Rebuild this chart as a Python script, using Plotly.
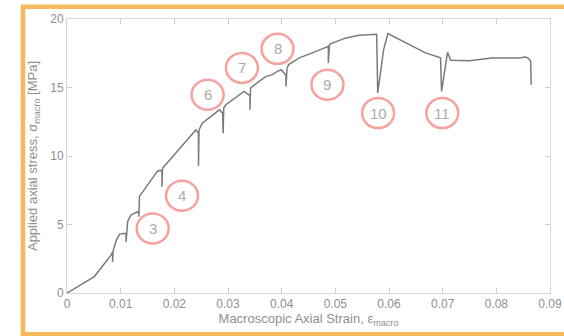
import plotly.graph_objects as go

# Macroscopic stress-strain response with stress drops
strain = [0, 0.0051, 0.0082, 0.0085, 0.0085, 0.0086, 0.0092, 0.0098, 0.0107, 0.0110, 0.0110,
          0.0112, 0.0113, 0.0119, 0.0132, 0.0134, 0.0134, 0.0135, 0.0169, 0.0175, 0.0177, 0.0177,
          0.0178, 0.0240, 0.0245, 0.0245, 0.0246, 0.0252, 0.0284, 0.0290, 0.0291, 0.0292, 0.0296,
          0.0330, 0.0337, 0.0341, 0.0341, 0.0342, 0.0358, 0.0371, 0.0383, 0.0392, 0.0399, 0.0404,
          0.0408, 0.0408, 0.0410, 0.0413, 0.0433, 0.0464, 0.0485, 0.0487, 0.0487, 0.0489, 0.0492,
          0.0520, 0.0544, 0.0572, 0.0577, 0.0579, 0.0590, 0.0598, 0.0625, 0.0656, 0.0668, 0.0696,
          0.0698, 0.0709, 0.0715, 0.0749, 0.0792, 0.0823, 0.0842, 0.0855, 0.0861, 0.0864, 0.0865]
stress = [0, 1.2, 2.76, 3.0, 2.27, 3.1, 3.86, 4.3, 4.35, 4.35, 3.73,
          4.6, 5.2, 5.69, 5.93, 5.8, 5.56, 7.05, 8.91, 8.95, 8.9, 7.76,
          9.1, 11.9, 11.65, 9.27, 11.9, 12.4, 13.37, 13.13, 11.67, 13.5, 13.74,
          14.71, 14.55, 14.4, 13.37, 14.96, 15.45, 15.81, 15.94, 16.18, 16.3, 16.1,
          15.9, 15.08, 16.4, 16.67, 17.16, 17.64, 18.0, 18.0, 16.79, 18.1, 18.2,
          18.62, 18.81, 18.89, 18.89, 14.6, 17.77, 18.94, 18.38, 17.77, 17.53, 17.16,
          14.71, 17.57, 16.98, 16.96, 17.16, 17.16, 17.16, 17.23, 17.08, 16.91, 15.2]

# Numbered event markers
event_labels = ["3", "4", "6", "7", "8", "9", "10", "11"]
event_x = [0.01597, 0.02143, 0.02620, 0.03260, 0.03923, 0.04853, 0.05797, 0.06993]
event_y = [4.71, 7.10, 14.47, 16.43, 17.82, 15.20, 13.13, 13.13]

x_ticks = [0, 0.01, 0.02, 0.03, 0.04, 0.05, 0.06, 0.07, 0.08, 0.09]
y_ticks = [0, 5, 10, 15, 20]

W, H = 564, 336
ML, MR, MT, MB = 67, 14, 19, 43
PW, PH = W - ML - MR, H - MT - MB

FONT = "Liberation Sans, Arial, sans-serif"
GREY = "#8f8f8f"

fig = go.Figure()
fig.add_trace(go.Scatter(x=strain, y=stress, mode="lines",
                         line=dict(color="#7a7a7a", width=1.5),
                         showlegend=False, hoverinfo="skip"))

shapes = []
annotations = []
for lab, ex, ey in zip(event_labels, event_x, event_y):
    shapes.append(dict(type="circle", xref="x", yref="y",
                       xsizemode="pixel", ysizemode="pixel",
                       xanchor=ex, yanchor=ey, x0=-16, x1=16, y0=-15, y1=15,
                       line=dict(color="#f7a29e", width=2.5),
                       fillcolor="rgba(255,255,255,0)"))
    annotations.append(dict(x=ex, y=ey, xref="x", yref="y", text=lab,
                            showarrow=False,
                            font=dict(family=FONT, size=15, color="#ababab")))

# Orange frame around the figure
def px_x(p):
    return (p - ML) / PW

def px_y(p):
    return (H - MB - p) / PH

shapes.append(dict(type="rect", xref="paper", yref="paper",
                   x0=px_x(23), x1=px_x(620), y0=px_y(334.3), y1=px_y(6.8),
                   line=dict(color="#f6b95c", width=4.5),
                   fillcolor="rgba(0,0,0,0)", layer="below"))

axis_common = dict(showgrid=False, zeroline=False, showline=True,
                   linecolor="#d6d6d6", linewidth=1, mirror="ticks",
                   ticks="inside", ticklen=5, tickcolor="#c8c8c8",
                   ticklabeloverflow="allow",
                   tickfont=dict(family=FONT, size=12, color=GREY))

fig.update_layout(
    width=W, height=H,
    margin=dict(l=ML, r=MR, t=MT, b=MB, autoexpand=False),
    paper_bgcolor="white", plot_bgcolor="white",
    xaxis=dict(range=[0, 0.09], tickvals=x_ticks,
               ticktext=[("%g" % v) for v in x_ticks],
               title=dict(text="Macroscopic Axial Strain, ε<sub>macro</sub>",
                          font=dict(family=FONT, size=13, color=GREY), standoff=2),
               **axis_common),
    yaxis=dict(range=[0, 20], tickvals=y_ticks,
               title=dict(text="Applied axial stress, σ<sub>macro</sub> [MPa]",
                          font=dict(family=FONT, size=13, color=GREY), standoff=9),
               **axis_common),
    shapes=shapes,
    annotations=annotations,
)

fig.write_html("out.html")
